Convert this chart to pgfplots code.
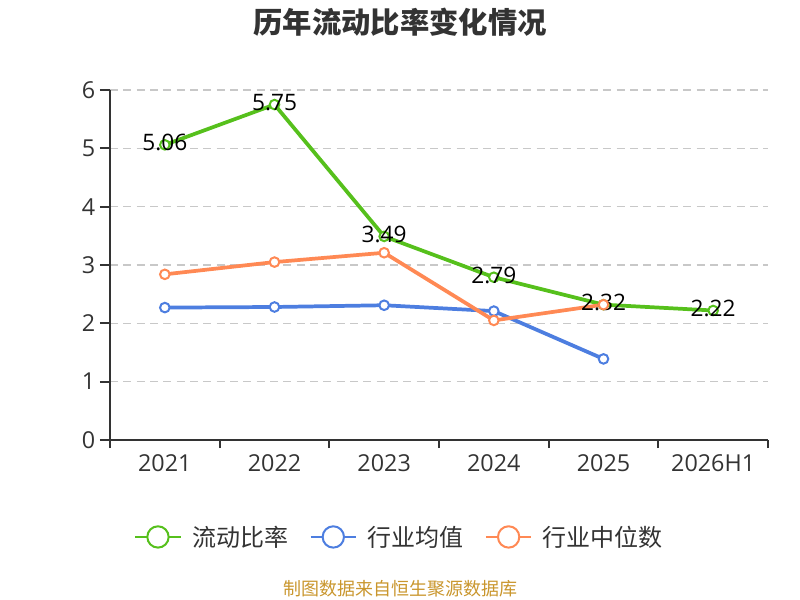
\documentclass[border=0pt]{standalone}
\usepackage{pgfplots}
\pgfplotsset{compat=1.18}
\usepackage{fontspec}
\setmainfont{Open Sans}
\newfontfamily\cjk{Noto Sans CJK SC}
\definecolor{cgreen}{RGB}{86,192,28}
\definecolor{cblue}{RGB}{77,126,224}
\definecolor{corange}{RGB}{255,137,84}
\definecolor{tcol}{RGB}{51,51,51}
\definecolor{axcol}{RGB}{51,51,51}
\definecolor{gridcol}{RGB}{200,200,200}
\definecolor{srccol}{RGB}{201,150,45}
\begin{document}
\begin{tikzpicture}[x=1pt,y=1pt]
\path[use as bounding box] (0,0) rectangle (600,450);
\node[font=\cjk\bfseries\fontsize{22}{26}\selectfont, text=tcol] at (300,433) {历年流动比率变化情况};
\node[font=\cjk\fontsize{13.5}{16}\selectfont, text=srccol] at (300,8.5) {制图数据来自恒生聚源数据库};
\begin{axis}[
  at={(82.5pt,120pt)}, anchor=south west,
  scale only axis, width=493.5pt, height=262.5pt,
  xmin=-0.5, xmax=5.5, ymin=0, ymax=6,
  /pgf/number format/assume math mode=true,
  axis lines=left, axis line style={-, draw=axcol, line width=1.5pt},
  xtick={0,1,2,3,4,5},
  xticklabels={2021,2022,2023,2024,2025,2026H1},
  minor xtick={-0.5,0.5,1.5,2.5,3.5,4.5,5.5},
  xtick style={draw=none},
  minor x tick style={draw=axcol, line width=1.5pt},
  ytick={0,1,2,3,4,5,6},
  y tick style={draw=axcol, line width=1.5pt},
  tick align=outside,
  major tick length=7.5pt, minor tick length=6pt,
  ymajorgrids,
  grid style={draw=gridcol, line width=1.1pt, dash pattern=on 6pt off 4pt},
  xticklabel style={font=\fontsize{17.5}{20}\selectfont, text=tcol},
  yticklabel style={font=\fontsize{17.5}{20}\selectfont, text=tcol},
  legend columns=3,
  legend style={at={(axis description cs:0.4407,-0.277)}, anchor=center, draw=none,
    font=\cjk\fontsize{18}{21}\selectfont, text=tcol,
    /tikz/every odd column/.append style={column sep=6pt},
    /tikz/every even column/.append style={column sep=14pt}},
  legend image code/.code={
    \draw[mark=none,#1,line width=1.5pt] (0pt,0pt) -- (34pt,0pt);
    \draw[mark=none,#1,line width=1.5pt,fill=white] (17pt,0pt) circle (8pt);},
  clip=false,
]
\addplot[draw=cgreen, line width=2.8pt, mark=*, mark size=3.6pt,
  mark options={fill=white, line width=1.5pt, draw=cgreen},
  nodes near coords, point meta=explicit symbolic,
  nodes near coords style={font=\fontsize{17}{20}\selectfont, text=black, anchor=center, yshift=1.5pt, inner sep=0pt}]
  coordinates {(0,5.06)[5.06] (1,5.75)[5.75] (2,3.49)[3.49] (3,2.79)[2.79] (4,2.32)[2.32] (5,2.22)[2.22]};
\addlegendentry{流动比率}
\addplot[draw=cblue, line width=2.8pt, mark=*, mark size=3.6pt,
  mark options={fill=white, line width=1.5pt, draw=cblue}]
  coordinates {(0,2.27) (1,2.28) (2,2.31) (3,2.21) (4,1.39)};
\addlegendentry{行业均值}
\addplot[draw=corange, line width=2.8pt, mark=*, mark size=3.6pt,
  mark options={fill=white, line width=1.5pt, draw=corange}]
  coordinates {(0,2.84) (1,3.05) (2,3.21) (3,2.05) (4,2.32)};
\addlegendentry{行业中位数}
\end{axis}
\end{tikzpicture}
\end{document}
